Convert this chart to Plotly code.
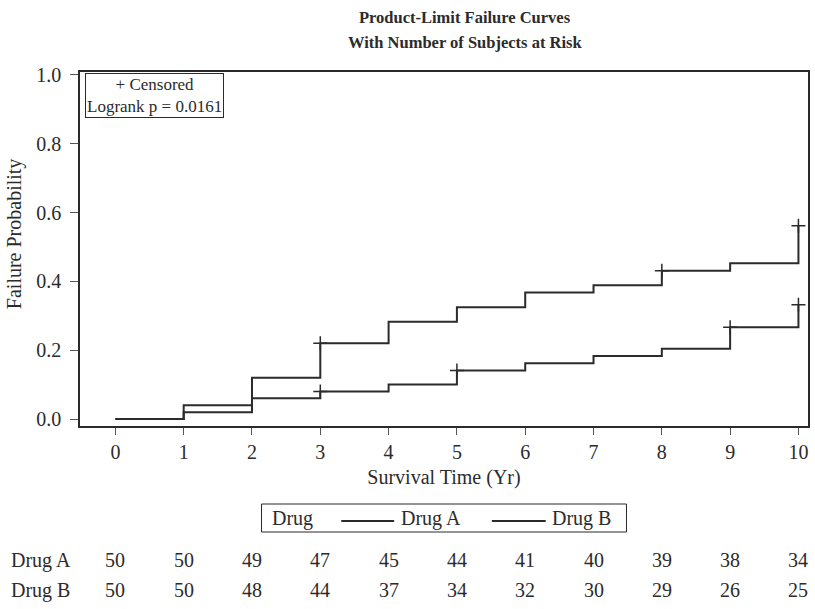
import plotly.graph_objects as go

# Survival times (years) at which the product-limit estimate steps
times = [0, 1, 2, 3, 4, 5, 6, 7, 8, 9, 10]

# Product-limit failure probability (1 - S(t)) for each drug
fail_a = [0.0, 0.020, 0.060, 0.080, 0.100, 0.141, 0.162, 0.183, 0.204, 0.267, 0.332]
fail_b = [0.0, 0.040, 0.120, 0.220, 0.283, 0.325, 0.368, 0.389, 0.431, 0.453, 0.562]

# Censored observations (time, failure probability)
cens_a_t = [3, 5, 9, 10]
cens_a_p = [0.080, 0.141, 0.267, 0.332]
cens_b_t = [3, 8, 10]
cens_b_p = [0.220, 0.431, 0.562]

# Number of subjects at risk
risk_a = [50, 50, 49, 47, 45, 44, 41, 40, 39, 38, 34]
risk_b = [50, 50, 48, 44, 37, 34, 32, 30, 29, 26, 25]

groups = ["Drug A", "Drug B"]
logrank_p = 0.0161

FONT = "Liberation Serif"
INK = "#2b2b2b"
FS = 20

fig = go.Figure()

for name, y in zip(groups, [fail_a, fail_b]):
    fig.add_trace(go.Scatter(
        x=times, y=y, mode="lines", name=name, showlegend=False,
        line=dict(shape="hv", color=INK, width=2),
    ))

for t, p in [(cens_a_t, cens_a_p), (cens_b_t, cens_b_p)]:
    fig.add_trace(go.Scatter(
        x=t, y=p, mode="markers", showlegend=False, hoverinfo="skip",
        marker=dict(symbol="cross-thin", size=10,
                    line=dict(color=INK, width=1.5)),
    ))

# Plot geometry in pixels, used to place paper-referenced items
W, H = 815, 609
ML, MR, MT, MB = 80, 5, 72, 183
PW, PH = W - ML - MR, H - MT - MB


def px_x(px):
    return (px - ML) / PW


def px_y(py):
    return (H - MB - py) / PH


def text(x, y, s, size=FS, anchor="center", xref="paper", angle=0):
    fig.add_annotation(x=x, y=y, xref=xref, yref="paper", text=s,
                       showarrow=False, xanchor=anchor, yanchor="middle",
                       textangle=angle,
                       font=dict(family=FONT, size=size, color=INK))


# Two-line title
text(px_x(466), px_y(18), "<b>Product-Limit Failure Curves</b>", size=16.5)
text(px_x(466), px_y(43), "<b>With Number of Subjects at Risk</b>", size=16.5)

# Vertical axis label
text(px_x(14), px_y(234), "Failure Probability", angle=-90)

# Group key below the axis: frame, heading, line samples and names
fig.add_shape(type="rect", xref="paper", yref="paper",
              x0=px_x(262), x1=px_x(628), y0=px_y(504), y1=px_y(532),
              line=dict(color=INK, width=1), fillcolor="white")
text(px_x(271), px_y(518), "Drug", anchor="left")
for name, lx0, lx1, tx in [(groups[0], 342, 395, 400), (groups[1], 493, 547, 551)]:
    fig.add_shape(type="line", xref="paper", yref="paper",
                  x0=px_x(lx0), x1=px_x(lx1), y0=px_y(521), y1=px_y(521),
                  line=dict(color=INK, width=2))
    text(px_x(tx), px_y(518), name, anchor="left")

# At-risk table under the plot
for label, counts, row_y in [(groups[0], risk_a, 560), (groups[1], risk_b, 590)]:
    text(px_x(9), px_y(row_y), label, anchor="left")
    for t, n in zip(times, counts):
        text(t, px_y(row_y), str(n), xref="x")

# Inset with censoring key and log-rank p-value
fig.add_annotation(x=px_x(85), y=px_y(73), xref="paper", yref="paper",
                   xanchor="left", yanchor="top", showarrow=False,
                   text=f"+ Censored<br>Logrank p = {logrank_p:.4f}",
                   align="center", bordercolor=INK, borderwidth=1, borderpad=1,
                   bgcolor="white",
                   font=dict(family=FONT, size=17, color=INK))

fig.update_layout(
    width=W, height=H,
    margin=dict(l=ML, r=MR, t=MT, b=MB),
    paper_bgcolor="white", plot_bgcolor="white",
    font=dict(family=FONT, size=FS, color=INK),
    showlegend=False,
    xaxis=dict(
        range=[-0.518, 10.14], tickvals=times, ticktext=[str(t) for t in times],
        ticks="outside", ticklen=7, tickcolor="#555", tickwidth=1.2,
        showgrid=False, zeroline=False,
        showline=True, linecolor=INK, linewidth=1.5, mirror=True,
        title=dict(text="Survival Time (Yr)", standoff=8,
                   font=dict(family=FONT, size=FS)),
        tickfont=dict(family=FONT, size=FS),
    ),
    yaxis=dict(
        range=[-0.0203, 1.0087], tickvals=[0, 0.2, 0.4, 0.6, 0.8, 1.0],
        ticktext=["0.0", "0.2", "0.4", "0.6", "0.8", "1.0"],
        ticks="outside", ticklen=8, tickcolor="#555", tickwidth=1.2,
        ticklabelstandoff=5,
        showgrid=False, zeroline=False,
        showline=True, linecolor=INK, linewidth=1.5, mirror=True,
        tickfont=dict(family=FONT, size=FS),
    ),
)

fig.write_html("out.html")
